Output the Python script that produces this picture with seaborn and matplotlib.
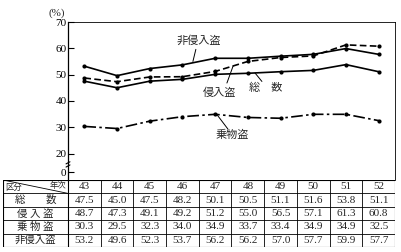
import matplotlib
matplotlib.use("Agg")
import matplotlib.pyplot as plt
import seaborn as sns
import pandas as pd
import numpy as np

# ---- data ----
years = ["43", "44", "45", "46", "47", "48", "49", "50", "51", "52"]
total = [47.5, 45.0, 47.5, 48.2, 50.1, 50.5, 51.1, 51.6, 53.8, 51.1]        # 総数
burglary = [48.7, 47.3, 49.1, 49.2, 51.2, 55.0, 56.5, 57.1, 61.3, 60.8]     # 侵入盗
vehicle = [30.3, 29.5, 32.3, 34.0, 34.9, 33.7, 33.4, 34.9, 34.9, 32.5]      # 乗物盗
nonburglary = [53.2, 49.6, 52.3, 53.7, 56.2, 56.2, 57.0, 57.7, 59.9, 57.7]  # 非侵入盗
row_labels = ["総　　数", "侵 入 盗", "乗 物 盗", "非侵入盗"]
yticks = [20, 30, 40, 50, 60, 70]

sns.set_theme(style="white")
plt.rcParams['font.family'] = ['Liberation Serif', 'Noto Sans CJK JP']

W, H = 402, 252
fig = plt.figure(figsize=(W / 100, H / 100), dpi=100)

def fx(px):
    return px / W

def fy(py):
    return 1 - py / H

# main chart axes
L, R, T, B = 68, 395, 22, 180
ax = fig.add_axes([fx(L), fy(B), fx(R) - fx(L), fy(T) - fy(B)])
idx = np.arange(len(years))
df = pd.DataFrame({"i": idx, "total": total, "burglary": burglary,
                   "vehicle": vehicle, "nonburglary": nonburglary})

styles = {
    "nonburglary": (None, "-"),
    "total": (None, "-"),
    "burglary": ((4, 2), "--"),
    "vehicle": ((7, 2, 1.5, 2), "-."),
}
for col, (dash, ls) in styles.items():
    sns.lineplot(data=df, x="i", y=col, ax=ax, color="black", linewidth=1.2,
                 marker="o", markersize=3, markeredgewidth=0, legend=False)
    line = ax.lines[-1]
    if dash is not None:
        line.set_dashes(dash)

ppu = 2.63
ymax = 70
ymin = ymax - (B - T) / ppu
ax.set_ylim(ymin, ymax)
ax.set_xlim(-0.5, 9.5)
zero_v = ymax - (172 - T) / ppu
ax.set_yticks(yticks + [zero_v])
ax.set_yticklabels([str(t) for t in yticks] + ["0"])
ax.set_xticks([])
ax.set_xlabel("")
ax.set_ylabel("")
ax.tick_params(axis="y", direction="in", length=4, width=0.8, labelsize=8,
               pad=1, left=True, colors="black")
for s in ["left", "right", "top"]:
    ax.spines[s].set_color("black")
    ax.spines[s].set_linewidth(0.9)
ax.spines["bottom"].set_visible(False)
ax.spines["top"].set_linewidth(0.6)
ax.spines["right"].set_linewidth(0.6)

# axis break mark
bv = ymax - (166 - T) / ppu
for dv in (0.0, 1.2):
    ax.plot([-0.56, -0.44], [bv + dv - 0.4, bv + dv + 0.4], color="black",
            lw=0.8, clip_on=False, transform=ax.transData)
ax.text(-0.5 - 0.1, ymax + 3.5, "(%)", ha="right", va="center", fontsize=8,
        family=['Liberation Serif', 'Noto Sans CJK JP'], clip_on=False)

# annotations
def lab(text, tx, ty, p0, p1):
    ax.text(tx, ty, text, ha="center", va="center", fontsize=8)
    ax.plot([p0[0], p1[0]], [p0[1], p1[1]], color="black", lw=0.7)

lab("非侵入盗", 3.5, 62.8, (3.41, 59.6), (3.32, 55.0))
lab("侵入盗", 4.12, 43.0, (4.36, 46.8), (4.55, 53.3))
lab("総　数", 5.55, 44.9, (5.22, 50.6), (5.43, 47.4))
lab("乗物盗", 4.51, 27.0, (4.06, 34.7), (4.39, 29.3))

# ---- table ----
tL, tR, tT, tB = 3, 395, 180, 247
tax = fig.add_axes([fx(tL), fy(tB), fx(tR) - fx(tL), fy(tT) - fy(tB)])
tax.set_xlim(tL, tR)
tax.set_ylim(tB, tT)
tax.axis("off")
nrows = 5
rh = (tB - tT) / nrows
colw = (tR - L) / len(years)
lw = 0.8
for r in range(nrows + 1):
    tax.plot([tL, tR], [tT + r * rh] * 2, color="black", lw=lw if r in (0, nrows) else 0.6)
tax.plot([tL, tL], [tT, tB], color="black", lw=lw)
tax.plot([L, L], [tT, tB], color="black", lw=lw)
for c in range(1, len(years) + 1):
    x = L + c * colw
    tax.plot([x, x], [tT, tB], color="black", lw=lw if c == len(years) else 0.6)
# header diagonal
tax.plot([tL, L], [tT, tT + rh], color="black", lw=0.6)
tax.text(tL + 2, tT + rh * 0.62, "区分", ha="left", va="center", fontsize=6)
tax.text(L - 2, tT + rh * 0.45, "年次", ha="right", va="center", fontsize=6)
for c, yv in enumerate(years):
    tax.text(L + (c + 0.5) * colw, tT + 0.5 * rh, yv, ha="center", va="center",
             fontsize=8)
series = [total, burglary, vehicle, nonburglary]
for r, (rl, vals) in enumerate(zip(row_labels, series)):
    yc = tT + (r + 1.5) * rh
    tax.text((tL + L) / 2, yc, rl, ha="center", va="center", fontsize=7.5)
    for c, v in enumerate(vals):
        tax.text(L + (c + 0.5) * colw, yc, f"{v:.1f}", ha="center", va="center",
                 fontsize=8)

fig.savefig("out.png", dpi=100)
